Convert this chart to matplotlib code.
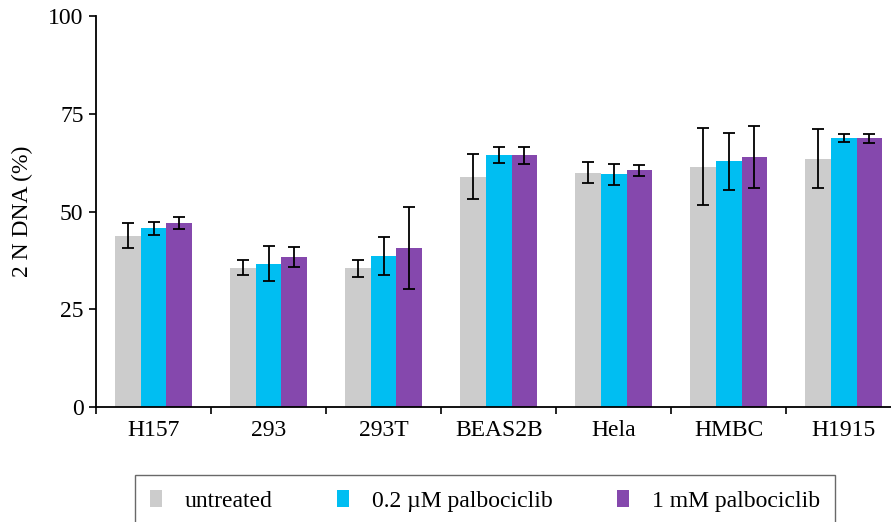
import numpy as np
import matplotlib.pyplot as plt
from matplotlib.patches import Patch

# cell lines
cells = ['H157', '293', '293T', 'BEAS2B', 'Hela', 'HMBC', 'H1915']

# 2N DNA (%) per treatment, with error
untreated = [43.8, 35.6, 35.5, 58.9, 59.9, 61.5, 63.5]
untreated_err = [3.2, 1.9, 2.2, 5.7, 2.7, 9.8, 7.6]
low_dose = [45.7, 36.7, 38.7, 64.4, 59.5, 62.8, 68.9]
low_dose_err = [1.6, 4.5, 4.9, 2.0, 2.6, 7.2, 1.0]
high_dose = [47.1, 38.4, 40.7, 64.4, 60.5, 64.0, 68.7]
high_dose_err = [1.5, 2.6, 10.4, 2.2, 1.5, 7.9, 1.2]

labels = ['untreated', '0.2 µM palbociclib', '1 mM palbociclib']
colors = ['#cccccc', '#00bef2', '#8548ad']

plt.rcParams['font.family'] = ['Liberation Serif', 'DejaVu Serif']
fs = 17

fig = plt.figure(figsize=(8.91, 5.22), dpi=100)
ax = fig.add_axes([96 / 891, 115 / 522, 1 - 96 / 891, 391 / 522])

x = np.arange(len(cells))
w = 0.223
series = [(untreated, untreated_err), (low_dose, low_dose_err), (high_dose, high_dose_err)]
for i, (vals, errs) in enumerate(series):
    ax.bar(x + (i - 1) * w, vals, w, color=colors[i], edgecolor='none', zorder=2)
    ax.errorbar(x + (i - 1) * w, vals, yerr=errs, fmt='none', ecolor='black',
                elinewidth=1.3, capsize=4.3, capthick=1.3, zorder=3)

ax.set_xlim(-0.5, 6.41)
ax.set_ylim(0, 100)
ax.set_yticks([0, 25, 50, 75, 100])
ax.set_xticks(x)
ax.set_xticklabels(cells)
ax.set_xticks(np.arange(-0.5, 6.5, 1), minor=True)
ax.tick_params(axis='x', which='major', length=0, pad=9, labelsize=fs)
ax.tick_params(axis='x', which='minor', length=5, width=1.2, direction='out')
ax.tick_params(axis='y', length=5, width=1.2, labelsize=fs, pad=4)
ax.set_ylabel('2 N DNA (%)', fontsize=fs, labelpad=11)

for s in ['top', 'right']:
    ax.spines[s].set_visible(False)
for s in ['left', 'bottom']:
    ax.spines[s].set_linewidth(1.3)

handles = [Patch(facecolor=c, edgecolor='none') for c in colors]
leg = fig.legend(handles, labels, loc='upper left', bbox_to_anchor=(135 / 891, 1 - 475 / 522),
                 ncol=3, fontsize=fs, frameon=True, fancybox=False,
                 handlelength=0.5, handleheight=0.7, handletextpad=0.95,
                 columnspacing=2.75, borderpad=0.65, borderaxespad=0)
leg.get_frame().set_edgecolor('#444444')
leg.get_frame().set_linewidth(1.0)

fig.savefig('out.png', dpi=100)
